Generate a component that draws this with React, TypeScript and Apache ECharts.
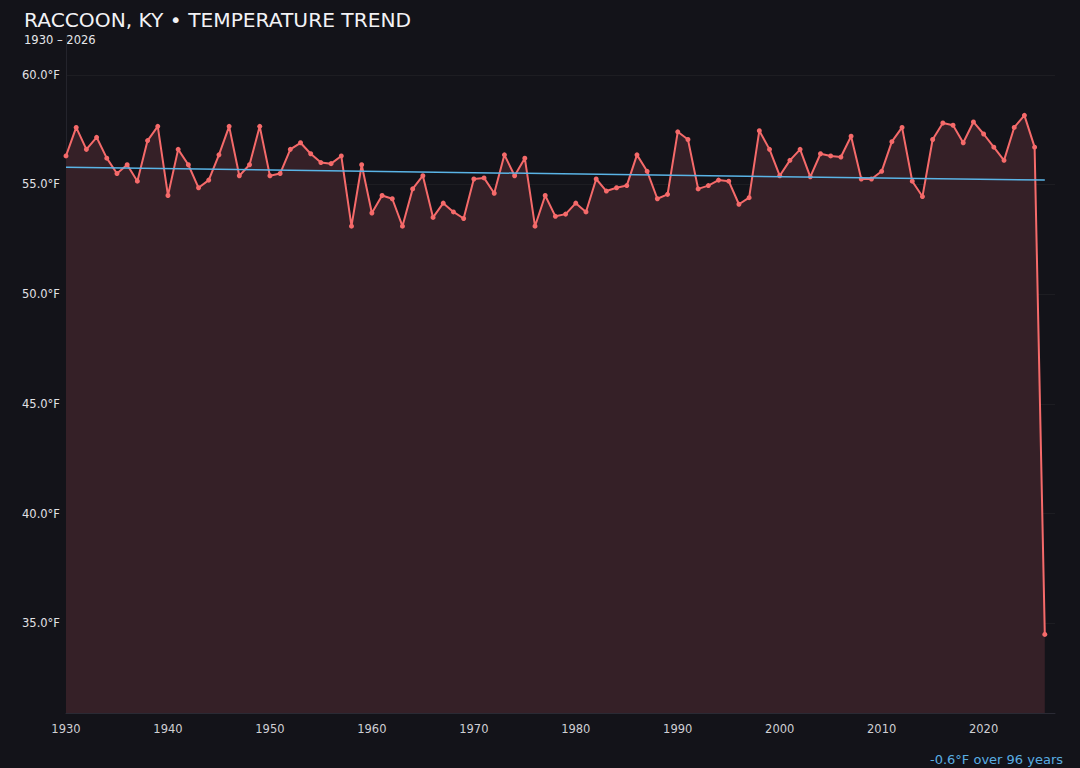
import React, { useEffect, useRef } from 'react';
import * as echarts from 'echarts';

// 年平均气温 (°F), 1930 – 2026
const FIRST_YEAR = 1930;
const TEMPS = [
  56.3, 57.6, 56.6, 57.15, 56.2, 55.5, 55.9, 55.15, 57.0, 57.65,
  54.5, 56.6, 55.9, 54.85, 55.2, 56.35, 57.65, 55.4, 55.9, 57.65,
  55.4, 55.5, 56.6, 56.9, 56.4, 56.0, 55.95, 56.3, 53.1, 55.9,
  53.7, 54.5, 54.35, 53.1, 54.8, 55.4, 53.5, 54.15, 53.75, 53.45,
  55.25, 55.3, 54.6, 56.35, 55.4, 56.2, 53.1, 54.5, 53.55, 53.65,
  54.15, 53.75, 55.25, 54.7, 54.85, 54.95, 56.35, 55.6, 54.35, 54.55,
  57.4, 57.05, 54.8, 54.95, 55.2, 55.15, 54.1, 54.4, 57.45, 56.6,
  55.4, 56.1, 56.6, 55.35, 56.4, 56.3, 56.25, 57.2, 55.25, 55.25,
  55.6, 56.95, 57.6, 55.15, 54.45, 57.05, 57.8, 57.7, 56.9, 57.85,
  57.3, 56.7, 56.1, 57.6, 58.15, 56.7, 34.5,
];
const YEARS = TEMPS.map((_, i) => FIRST_YEAR + i);

// 趋势线两端
const TREND_YEARS = [1930, 2026];
const TREND_VALUES = [55.78, 55.2];

const TITLE = 'RACCOON, KY • TEMPERATURE TREND';
const SUBTITLE = '1930 – 2026';
const TREND_NOTE = '-0.6°F over 96 years';

const FONT = '"DejaVu Sans", sans-serif';

const App: React.FC = () => {
  const chartRef = useRef<HTMLDivElement>(null);

  useEffect(() => {
    document.body.style.margin = '0';
    if (!chartRef.current) return;
    const chart = echarts.init(chartRef.current, undefined, { renderer: 'svg' });

    const option = {
      animation: false,
      backgroundColor: '#131319',
      textStyle: { fontFamily: FONT },
      grid: { left: 66, right: 25, top: 37, bottom: 55 },
      graphic: [
        {
          type: 'text',
          left: 24,
          top: 10,
          style: { text: TITLE, fill: '#f2f2f5', font: `20.2px ${FONT}`, lineHeight: 18 },
        },
        {
          type: 'text',
          left: 24,
          top: 33.5,
          style: { text: SUBTITLE, fill: '#e6e6ea', font: `11.5px ${FONT}`, lineHeight: 11 },
        },
        {
          type: 'text',
          right: 17,
          top: 753,
          style: { text: TREND_NOTE, fill: '#5aaee2', font: `13px ${FONT}` },
        },
      ],
      xAxis: {
        type: 'value',
        min: 1930,
        max: 2027,
        interval: 10,
        axisLine: { show: true, lineStyle: { color: '#2a2a34', width: 1 } },
        axisTick: { show: false },
        splitLine: { show: false },
        axisLabel: {
          color: '#cfcfd4',
          fontSize: 11.5,
          margin: 10,
          showMaxLabel: false,
          formatter: (v: number) => (v % 10 === 0 ? String(v) : ''),
        },
      },
      yAxis: {
        type: 'value',
        min: 30.92,
        max: 61.72,
        splitNumber: 6,
        axisLine: { show: true, lineStyle: { color: '#24242c', width: 1 } },
        axisTick: { show: false },
        splitLine: {
          show: true,
          showMinLine: false,
          showMaxLine: false,
          lineStyle: { color: 'rgba(255,255,255,0.045)', width: 1 },
        },
        axisLabel: {
          color: '#e2e2e6',
          fontSize: 11.5,
          margin: 6,
          showMinLabel: false,
          showMaxLabel: false,
          formatter: (v: number) =>
            Math.abs(v / 5 - Math.round(v / 5)) < 1e-6 ? `${v.toFixed(1)}°F` : '',
        },
      },
      series: [
        {
          name: 'temp',
          type: 'line',
          data: YEARS.map((y, i) => [y, TEMPS[i]]),
          symbol: 'circle',
          symbolSize: 5,
          lineStyle: { color: '#f56a6a', width: 2 },
          itemStyle: { color: '#f56a6a' },
          areaStyle: { color: '#352027', opacity: 1, origin: 'start' },
          z: 2,
        },
        {
          name: 'trend',
          type: 'line',
          data: TREND_YEARS.map((y, i) => [y, TREND_VALUES[i]]),
          symbol: 'none',
          lineStyle: { color: '#5ab4e6', width: 1.5 },
          z: 3,
        },
      ],
    };

    chart.setOption(option);

    const handleResize = () => chart.resize();
    window.addEventListener('resize', handleResize);
    return () => {
      window.removeEventListener('resize', handleResize);
      chart.dispose();
    };
  }, []);

  return <div ref={chartRef} style={{ width: 1080, height: 768 }} />;
};

export default App;
